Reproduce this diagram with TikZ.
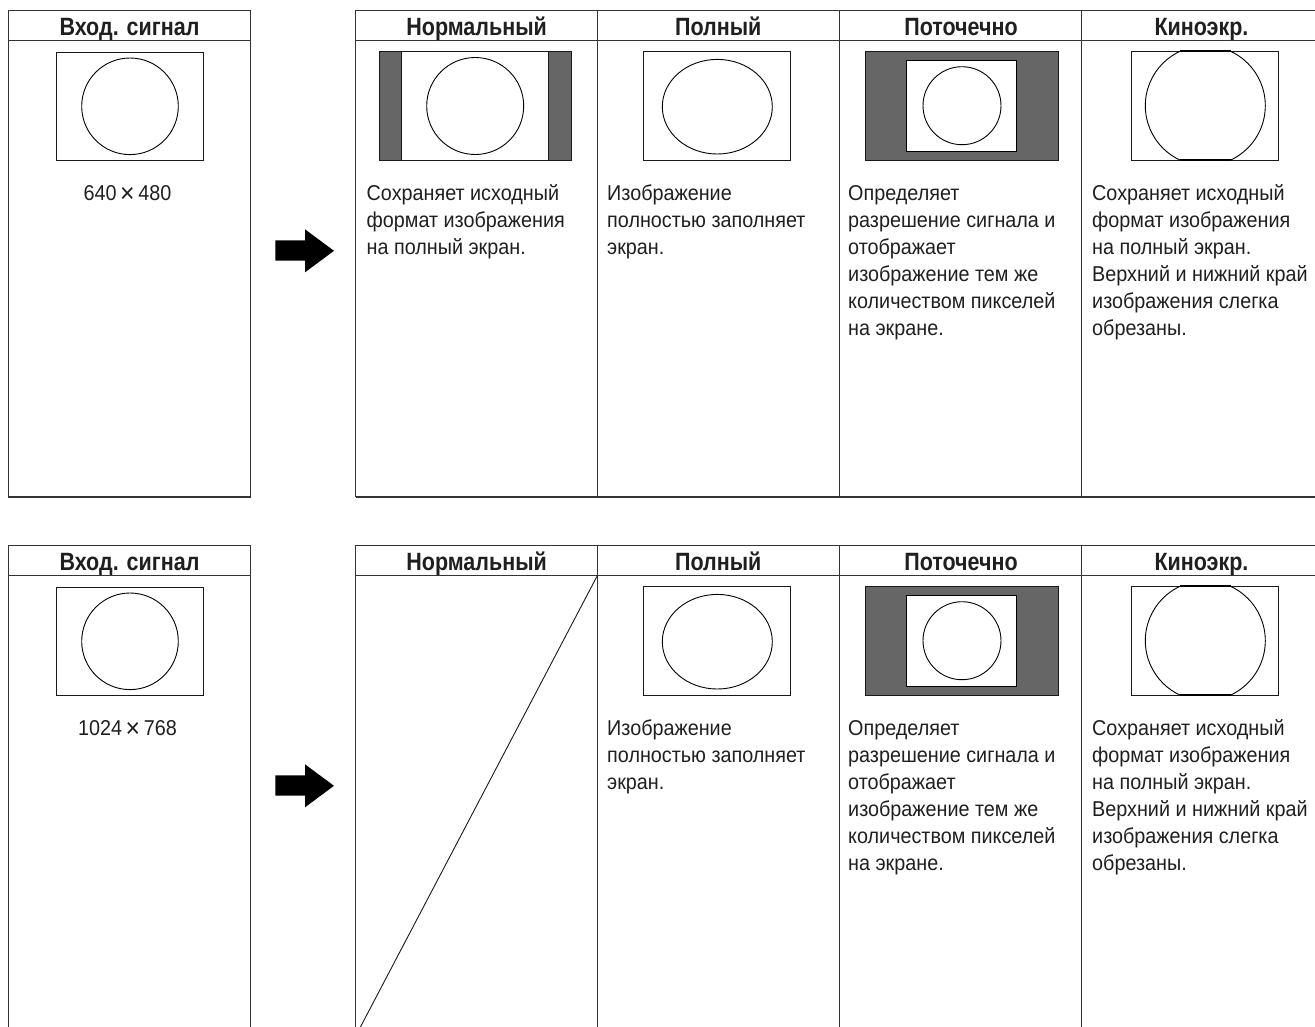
\documentclass[tikz,border=0pt]{standalone}
\usepackage{fontspec}
\setmainfont{Liberation Sans}
\newfontfamily\hdrfont[FakeStretch=0.86]{Liberation Sans Bold}
\newfontfamily\bodyfont[FakeStretch=0.92]{Liberation Sans}
\definecolor{ln}{gray}{0.2}
\definecolor{dk}{HTML}{666666}
\tikzset{
  frame/.style={draw=ln, line width=1.1pt},
  scr/.style={draw=black!90, line width=0.9pt},
  circ/.style={draw=black, line width=0.9pt},
  hdr/.style={font=\hdrfont\fontsize{25}{25}\selectfont, anchor=base, inner sep=0pt, text=black!88},
  res/.style={font=\bodyfont\fontsize{21.5}{24}\selectfont, anchor=base, inner sep=0pt, text=black!88},
  desc/.style={font=\bodyfont\fontsize{21.5}{27}\selectfont, anchor=north west, align=left, inner sep=0pt, text=black!88},
}
\newcommand\fs{\rule{0pt}{17pt}}
\newcommand\tms{\,\raisebox{-2.2pt}{\fontsize{27}{27}\selectfont ×}\,}
% shared parts of one row: #1 suffix, #2 resolution, #3 local bottom of frames
\newcommand\tvrow[3]{%
  % input table
  \draw[frame] (8.3,#3) -- (8.3,10.7) -- (250.7,10.7) -- (250.7,#3);
  \draw[frame] (8.3,40.7) -- (250.7,40.7);
  \node[hdr] (in-#1) at (129.5,35) {Вход. сигнал};
  \draw[scr] (56.7,52.3) rectangle (203.3,160.3);
  \draw[circ] (130,106.3) circle (48.3pt);
  \node[res] (res-#1) at (127.5,200) {#2};
  % arrow
  \fill[black] (275.3,240.3) -- (305,240.3) -- (305,229.3) -- (334,250.8) -- (305,272.3) -- (305,260.7) -- (275.3,260.7) -- cycle;
  % output table
  \draw[frame] (355.7,#3) -- (355.7,10.7) -- (1330,10.7);
  \draw[frame] (355.7,40.7) -- (1330,40.7);
  \draw[frame] (597.3,10.7) -- (597.3,#3);
  \draw[frame] (839.5,10.7) -- (839.5,#3);
  \draw[frame] (1081.7,10.7) -- (1081.7,#3);
  \node[hdr] (hn-#1) at (476.6,35) {Нормальный};
  \node[hdr] (hf-#1) at (718.3,35) {Полный};
  \node[hdr] (hd-#1) at (961,35) {Поточечно};
  \node[hdr] (hc-#1) at (1201.5,35) {Киноэкр.};
  % full
  \draw[scr] (643.3,51) rectangle (790.7,160);
  \draw[circ] (717.3,106.7) ellipse [x radius=55pt, y radius=47.3pt];
  \node[desc] (tf-#1) at (607,183) {\fs Изображение\\полностью заполняет\\экран.};
  % dot by dot
  \fill[dk] (865.7,51.3) rectangle (1058.3,160.3);
  \draw[scr] (865.7,51.3) rectangle (1058.3,160.3);
  \filldraw[fill=white, draw=black, line width=0.9pt] (906.7,60.3) rectangle (1016.7,151.3);
  \draw[circ] (962,105.7) circle (39pt);
  \node[desc] (td-#1) at (848,183) {\fs Определяет\\разрешение сигнала и\\отображает\\изображение тем же\\количеством пикселей\\на экране.};
  % cinema
  \draw[scr] (1131.7,51.3) rectangle (1278,160);
  \begin{scope}
    \clip (1131.7,51.3) rectangle (1278,160);
    \draw[circ] (1205.3,105.7) circle (60pt);
  \end{scope}
  \draw[line width=1.8pt] (1180,51.3) -- (1230.6,51.3);
  \draw[line width=1.8pt] (1180,160) -- (1230.6,160);
  \node[desc] (tc-#1) at (1092,183) {\fs Сохраняет исходный\\формат изображения\\на полный экран.\\Верхний и нижний край\\изображения слегка\\обрезаны.};
}
\begin{document}
\begin{tikzpicture}[x=1pt,y=-1pt]
\useasboundingbox (0,0) rectangle (1315,1026);
\clip (0,0) rectangle (1315,1026);
% row 1
\tvrow{a}{640\tms480}{497}
\draw[frame] (8.3,497) -- (250.7,497);
\draw[frame] (355.7,497) -- (1330,497);
\fill[dk] (379.3,51.7) rectangle (571,160.3);
\fill[white] (401.7,51.7) rectangle (548.7,160.3);
\draw[scr] (379.3,51.7) rectangle (571,160.3);
\draw[scr] (401.7,51.7) -- (401.7,160.3);
\draw[scr] (548.7,51.7) -- (548.7,160.3);
\draw[circ] (475.2,106) circle (48.5pt);
\node[desc] (tn-a) at (366.5,183) {\fs Сохраняет исходный\\формат изображения\\на полный экран.};
% row 2
\begin{scope}[yshift=-535pt]
\tvrow{b}{1024\tms768}{520}
\coordinate (dtop) at (597.3,40.7);
\coordinate (dbot) at (355.7,501);
\draw[line width=0.9pt, black!90] (dtop) -- (dbot);
\end{scope}
\end{tikzpicture}
\end{document}
